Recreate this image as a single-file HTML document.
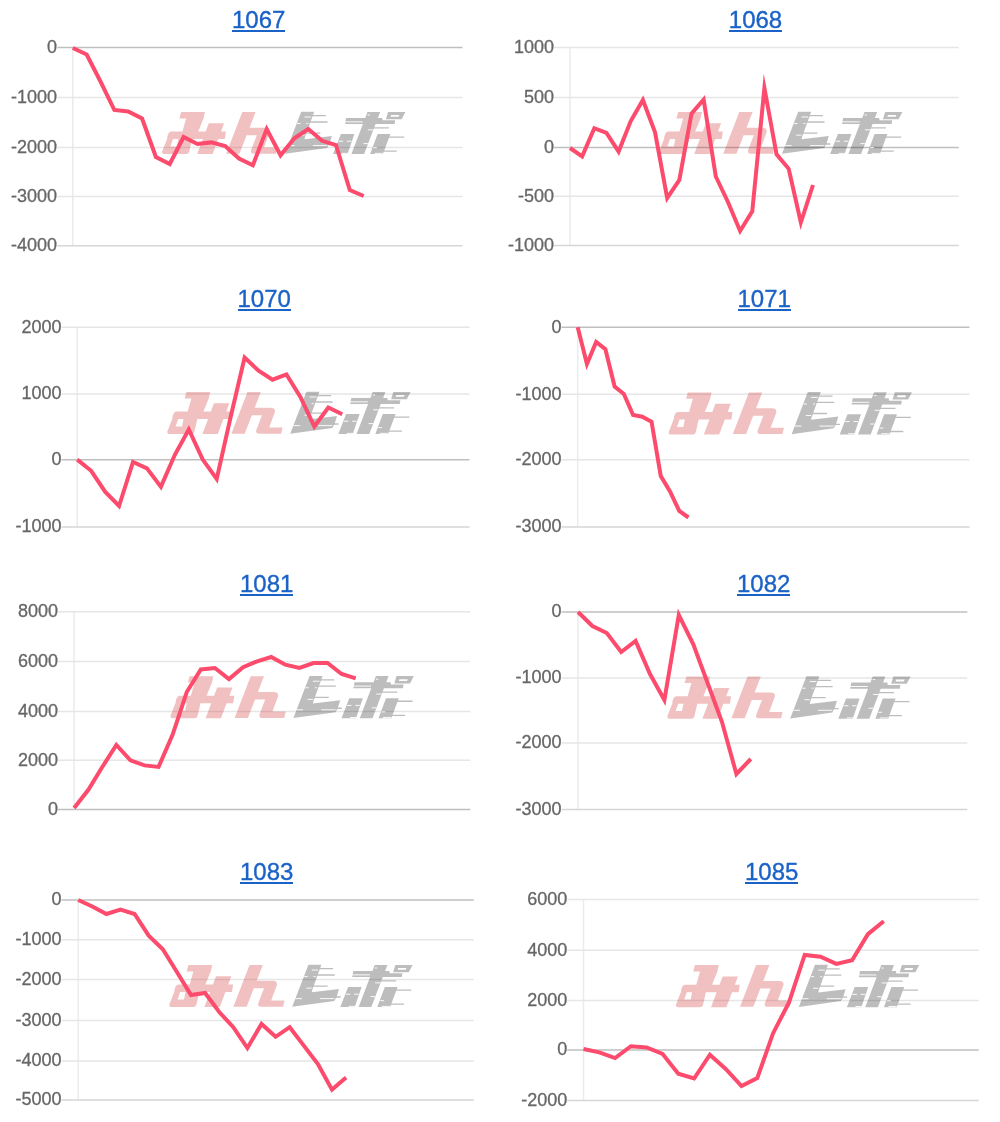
<!DOCTYPE html>
<html><head><meta charset="utf-8"><title>charts</title>
<style>
html,body{margin:0;padding:0;background:#fff;}
body{width:1000px;height:1122px;overflow:hidden;position:relative;font-family:"Liberation Sans",sans-serif;}
svg{position:absolute;left:0;top:0;display:block;will-change:transform;}
.lb,.tt{position:absolute;white-space:nowrap;font-family:"Liberation Sans",sans-serif;}
.lb{font-size:18px;line-height:20px;color:#666666;-webkit-text-stroke:0.3px #666666;text-align:right;}
.tt{font-size:24px;line-height:28px;color:#1a62c7;-webkit-text-stroke:0.35px #1a62c7;}
.ul{position:absolute;width:53.4px;height:2px;background:#1a62c7;}
</style></head><body>
<svg width="1000" height="1122" viewBox="0 0 1000 1122">
<defs><g id="logo">
<path fill="rgba(205,25,30,0.27)" d="M18.6,0 L42.3,0 L41,6.3 L16.8,6.3 Z
M23.7,6 L41.1,6 L35.5,19.6 L19.8,19.6 Z
M8.8,19.3 L63.3,19.3 L62.2,26.8 L4.5,26.8 Q5,19.3 8.8,19.3 Z
M4.5,26.6 L29.5,26.6 L26.6,39.4 Q26,41.6 23.6,41.6 L1.8,41.6 Q-1,41.6 -0.4,38.9 Z
M10.4,26.8 L7.8,34.1 L14.2,34.1 L15.7,26.8 Z
M46.2,11.2 L61.5,11.2 L50,41.6 L34.6,41.6 Z
M79.7,0 L93,0 L76.9,41.2 L63.6,41.2 Z
M85.5,15.6 L102.5,15.6 Q108,15.6 107,20 L101.4,35 L114.7,35 L113.3,41.2 L91.2,41.2 Q87.5,41.2 88.5,37.5 L94.2,23 L84,23 Z"/>
<path fill="rgba(0,0,0,0.26)" d="M138.6,-0.3 L151.6,-0.3 L142.5,24.4 L141.9,27 L169.2,23.8 L167.2,30.3 L164.6,35.5 L122.4,41.3 Z
M149,3 h14.3 v1.3 h-14.3 Z M147,9.2 h17.9 v1.3 h-17.9 Z M143,20.2 h14.8 v1.3 h-14.8 Z M164,31 h6.8 v1.3 h-6.8 Z M157,34.2 h7.6 v1.3 h-7.6 Z
M183.5,5.9 L219.5,5.9 L220,8.2 L232.6,8.2 L232,11.9 L182.4,11.9 Z
M204.9,-0.1 L217.6,-0.1 L201.5,41.6 L188.8,41.6 Z
M210,15.1 h16.3 v1.3 h-16.3 Z
M178.3,21.7 L191.8,21.7 L185,41.6 L170.5,41.6 Z
M215,21.7 L227.8,21.7 L220.3,41.6 L207.5,41.6 Z
M222,24.1 h19.6 v1.3 h-19.6 Z M212,38 h22.1 v1.3 h-22.1 Z
M225.5,-0.1 L242.8,-0.1 L239,7.1 L223.3,7.1 Z M228.5,2.9 L227.8,4.8 L236,4.8 L236.8,2.9 Z"/>
<g fill="#ffffff">
<rect x="141.9" y="4.5" width="6.5" height="0.9"/>
<rect x="134.5" y="11" width="3.3" height="0.9"/>
<rect x="143.8" y="11" width="2" height="0.9"/>
<rect x="136.6" y="22.4" width="5.3" height="0.9"/>
<rect x="125.6" y="32.8" width="6.5" height="0.9"/>
<rect x="150.3" y="32.8" width="14.3" height="0.9"/>
<rect x="182.4" y="9.3" width="17.6" height="0.9"/>
<rect x="205" y="2.5" width="2.3" height="0.9"/>
<rect x="205.3" y="17.2" width="5.3" height="0.9"/>
<rect x="176" y="28.4" width="4.5" height="0.9"/>
<rect x="184.3" y="28.4" width="4.5" height="0.9"/>
<rect x="200.8" y="30.8" width="4.5" height="0.9"/>
<rect x="210.5" y="34.8" width="3.8" height="0.9"/>
<rect x="179" y="40.4" width="7.5" height="0.9"/>
<rect x="212" y="40.4" width="8.2" height="0.9"/>
</g>
</g></defs>
<line x1="72.8" y1="47.6" x2="72.8" y2="245.7" stroke="#ebebeb" stroke-width="1.5"/>
<line x1="57.5" y1="47.6" x2="462.5" y2="47.6" stroke="#bfbfbf" stroke-width="1.5"/>
<line x1="57.5" y1="97.5" x2="462.5" y2="97.5" stroke="#e6e6e6" stroke-width="1.5"/>
<line x1="57.5" y1="147.6" x2="462.5" y2="147.6" stroke="#e6e6e6" stroke-width="1.5"/>
<line x1="57.5" y1="196.5" x2="462.5" y2="196.5" stroke="#e6e6e6" stroke-width="1.5"/>
<line x1="57.5" y1="245.7" x2="462.5" y2="245.7" stroke="#d6d6d6" stroke-width="1.5"/>
<use href="#logo" transform="translate(162.6,112) scale(1,1.012)"/>
<polyline points="72.8,48 86.65,54.5 100.5,81.5 114.35,110 128.2,111.5 142.05,118.5 155.9,157 169.75,164 183.6,137 197.45,144 211.3,142.4 225.15,146 239,158.6 252.85,165.3 266.7,129 280.55,155.3 294.4,138.3 308.25,129 322.1,140.8 335.95,145 349.8,190 363.65,196" fill="none" stroke="#fc4b6c" stroke-width="4" stroke-linejoin="miter" stroke-miterlimit="10"/>
<line x1="570" y1="47.5" x2="570" y2="245.5" stroke="#ebebeb" stroke-width="1.5"/>
<line x1="554" y1="47.5" x2="958.75" y2="47.5" stroke="#e6e6e6" stroke-width="1.5"/>
<line x1="554" y1="97.5" x2="958.75" y2="97.5" stroke="#e6e6e6" stroke-width="1.5"/>
<line x1="554" y1="147.5" x2="958.75" y2="147.5" stroke="#bfbfbf" stroke-width="1.5"/>
<line x1="554" y1="196.3" x2="958.75" y2="196.3" stroke="#e6e6e6" stroke-width="1.5"/>
<line x1="554" y1="245.5" x2="958.75" y2="245.5" stroke="#d6d6d6" stroke-width="1.5"/>
<use href="#logo" transform="translate(659.6,112) scale(1,1.012)"/>
<polyline points="570,148 582.15,156.4 594.3,128.2 606.45,133 618.6,151.6 630.75,121 642.9,100 655.05,132.4 667.2,198 679.35,179.9 691.5,113.6 703.65,99.5 715.8,176.5 727.95,202 740.1,231 752.25,211.4 764.4,88 776.55,154.4 788.7,168.8 800.85,222.5 813,185" fill="none" stroke="#fc4b6c" stroke-width="4" stroke-linejoin="miter" stroke-miterlimit="10"/>
<line x1="77.2" y1="327.2" x2="77.2" y2="527" stroke="#ebebeb" stroke-width="1.5"/>
<line x1="61.5" y1="327.2" x2="469.5" y2="327.2" stroke="#e6e6e6" stroke-width="1.5"/>
<line x1="61.5" y1="394" x2="469.5" y2="394" stroke="#e6e6e6" stroke-width="1.5"/>
<line x1="61.5" y1="459.7" x2="469.5" y2="459.7" stroke="#bfbfbf" stroke-width="1.5"/>
<line x1="61.5" y1="527" x2="469.5" y2="527" stroke="#d6d6d6" stroke-width="1.5"/>
<use href="#logo" transform="translate(167.8,392) scale(1,1.012)"/>
<polyline points="77.2,459.6 91.15,470.8 105.1,491.7 119.05,506 133,462 146.95,468.4 160.9,486.9 174.85,454.8 188.8,429.5 202.75,459.6 216.7,479 230.65,417 244.6,357.5 258.55,370.7 272.5,379.7 286.45,374.5 300.4,397 314.35,426.5 328.3,407.5 342.25,414.2" fill="none" stroke="#fc4b6c" stroke-width="4" stroke-linejoin="miter" stroke-miterlimit="10"/>
<line x1="577.7" y1="327.2" x2="577.7" y2="527" stroke="#ebebeb" stroke-width="1.5"/>
<line x1="561.5" y1="327.2" x2="969.5" y2="327.2" stroke="#bfbfbf" stroke-width="1.5"/>
<line x1="561.5" y1="394.2" x2="969.5" y2="394.2" stroke="#e6e6e6" stroke-width="1.5"/>
<line x1="561.5" y1="459.7" x2="969.5" y2="459.7" stroke="#e6e6e6" stroke-width="1.5"/>
<line x1="561.5" y1="527" x2="969.5" y2="527" stroke="#d6d6d6" stroke-width="1.5"/>
<use href="#logo" transform="translate(669.2,392.4) scale(1,1.012)"/>
<polyline points="577.7,327.3 586.93,364 596.16,341.9 605.39,349.2 614.62,386.6 623.85,394 633.08,415 642.31,416.7 651.54,421.7 660.77,476 670,491.4 679.23,510.9 688.46,517.5" fill="none" stroke="#fc4b6c" stroke-width="4" stroke-linejoin="miter" stroke-miterlimit="10"/>
<line x1="74.1" y1="611.8" x2="74.1" y2="809.6" stroke="#ebebeb" stroke-width="1.5"/>
<line x1="58" y1="611.8" x2="470.3" y2="611.8" stroke="#e6e6e6" stroke-width="1.5"/>
<line x1="58" y1="661.6" x2="470.3" y2="661.6" stroke="#e6e6e6" stroke-width="1.5"/>
<line x1="58" y1="711.4" x2="470.3" y2="711.4" stroke="#e6e6e6" stroke-width="1.5"/>
<line x1="58" y1="760.2" x2="470.3" y2="760.2" stroke="#e6e6e6" stroke-width="1.5"/>
<line x1="58" y1="809.6" x2="470.3" y2="809.6" stroke="#bfbfbf" stroke-width="1.5"/>
<use href="#logo" transform="translate(171,676.2) scale(1,1.012)"/>
<polyline points="74.1,808 88.18,790 102.26,767 116.34,745 130.42,760.3 144.5,765.4 158.58,766.9 172.66,734.6 186.74,692 200.82,669.5 214.9,668 228.98,679.1 243.06,667.2 257.14,661.3 271.22,657 285.3,664.7 299.38,668 313.46,663 327.54,663 341.62,674 355.7,678.3" fill="none" stroke="#fc4b6c" stroke-width="4" stroke-linejoin="miter" stroke-miterlimit="10"/>
<line x1="578" y1="612.1" x2="578" y2="809.6" stroke="#ebebeb" stroke-width="1.5"/>
<line x1="561.5" y1="612.1" x2="967.3" y2="612.1" stroke="#bfbfbf" stroke-width="1.5"/>
<line x1="561.5" y1="678" x2="967.3" y2="678" stroke="#e6e6e6" stroke-width="1.5"/>
<line x1="561.5" y1="743.1" x2="967.3" y2="743.1" stroke="#e6e6e6" stroke-width="1.5"/>
<line x1="561.5" y1="809.6" x2="967.3" y2="809.6" stroke="#d6d6d6" stroke-width="1.5"/>
<use href="#logo" transform="translate(667.8,676.6) scale(1,1.012)"/>
<polyline points="578,612 592.4,626 606.8,633 621.2,652 635.6,641 650,674 664.4,700 678.8,615 693.2,644 707.6,683 722,722 736.4,774 750.8,759" fill="none" stroke="#fc4b6c" stroke-width="4" stroke-linejoin="miter" stroke-miterlimit="10"/>
<line x1="78.2" y1="900" x2="78.2" y2="1100" stroke="#ebebeb" stroke-width="1.5"/>
<line x1="61.5" y1="900" x2="473.75" y2="900" stroke="#bfbfbf" stroke-width="1.5"/>
<line x1="61.5" y1="939.8" x2="473.75" y2="939.8" stroke="#e6e6e6" stroke-width="1.5"/>
<line x1="61.5" y1="979.5" x2="473.75" y2="979.5" stroke="#e6e6e6" stroke-width="1.5"/>
<line x1="61.5" y1="1020.6" x2="473.75" y2="1020.6" stroke="#e6e6e6" stroke-width="1.5"/>
<line x1="61.5" y1="1061" x2="473.75" y2="1061" stroke="#e6e6e6" stroke-width="1.5"/>
<line x1="61.5" y1="1100" x2="473.75" y2="1100" stroke="#d6d6d6" stroke-width="1.5"/>
<use href="#logo" transform="translate(169.8,965) scale(1,1.012)"/>
<polyline points="78.2,900 92.3,906.5 106.4,914 120.5,909.5 134.6,914 148.7,935.6 162.8,949.2 176.9,972 191,995 205.1,993 219.2,1012 233.3,1027.2 247.4,1048 261.5,1024 275.6,1036.8 289.7,1027.2 303.8,1045.6 317.9,1064 332,1089.6 346.1,1077.6" fill="none" stroke="#fc4b6c" stroke-width="4" stroke-linejoin="miter" stroke-miterlimit="10"/>
<line x1="583.5" y1="899.5" x2="583.5" y2="1100.5" stroke="#ebebeb" stroke-width="1.5"/>
<line x1="567.25" y1="899.5" x2="978.75" y2="899.5" stroke="#e6e6e6" stroke-width="1.5"/>
<line x1="567.25" y1="950.2" x2="978.75" y2="950.2" stroke="#e6e6e6" stroke-width="1.5"/>
<line x1="567.25" y1="1000.6" x2="978.75" y2="1000.6" stroke="#e6e6e6" stroke-width="1.5"/>
<line x1="567.25" y1="1050" x2="978.75" y2="1050" stroke="#bfbfbf" stroke-width="1.5"/>
<line x1="567.25" y1="1100.5" x2="978.75" y2="1100.5" stroke="#d6d6d6" stroke-width="1.5"/>
<use href="#logo" transform="translate(676.4,965.1) scale(1,1.012)"/>
<polyline points="583.5,1049 599.3,1052.4 615.1,1058.1 630.9,1046.2 646.7,1047.5 662.5,1053.8 678.3,1073.7 694.1,1078.5 709.9,1054.7 725.7,1069 741.5,1086 757.3,1078 773.1,1033.2 788.9,1002.6 804.7,954.9 820.5,956.7 836.3,963.9 852.1,960.3 867.9,934.2 883.7,921.2" fill="none" stroke="#fc4b6c" stroke-width="4" stroke-linejoin="miter" stroke-miterlimit="10"/>
</svg>
<div class="lb" style="right:943px;top:36.96px">0</div>
<div class="lb" style="right:943px;top:86.86px">-1000</div>
<div class="lb" style="right:943px;top:136.96px">-2000</div>
<div class="lb" style="right:943px;top:185.86px">-3000</div>
<div class="lb" style="right:943px;top:235.06px">-4000</div>
<div class="tt" style="left:232px;top:5.88px">1067</div>
<div class="ul" style="left:232px;top:30px"></div>
<div class="lb" style="right:445.9px;top:36.86px">1000</div>
<div class="lb" style="right:445.9px;top:86.86px">500</div>
<div class="lb" style="right:445.9px;top:136.86px">0</div>
<div class="lb" style="right:445.9px;top:185.66px">-500</div>
<div class="lb" style="right:445.9px;top:234.86px">-1000</div>
<div class="tt" style="left:728.8px;top:5.88px">1068</div>
<div class="ul" style="left:728.8px;top:30px"></div>
<div class="lb" style="right:938.4px;top:316.56px">2000</div>
<div class="lb" style="right:938.4px;top:383.36px">1000</div>
<div class="lb" style="right:938.4px;top:449.06px">0</div>
<div class="lb" style="right:938.4px;top:516.36px">-1000</div>
<div class="tt" style="left:237.5px;top:285.08px">1070</div>
<div class="ul" style="left:237.5px;top:309.2px"></div>
<div class="lb" style="right:438.4px;top:316.56px">0</div>
<div class="lb" style="right:438.4px;top:383.56px">-1000</div>
<div class="lb" style="right:438.4px;top:449.06px">-2000</div>
<div class="lb" style="right:438.4px;top:516.36px">-3000</div>
<div class="tt" style="left:737.5px;top:285.08px">1071</div>
<div class="ul" style="left:737.5px;top:309.2px"></div>
<div class="lb" style="right:941.9px;top:601.16px">8000</div>
<div class="lb" style="right:941.9px;top:650.96px">6000</div>
<div class="lb" style="right:941.9px;top:700.76px">4000</div>
<div class="lb" style="right:941.9px;top:749.56px">2000</div>
<div class="lb" style="right:941.9px;top:798.96px">0</div>
<div class="tt" style="left:240px;top:570.08px">1081</div>
<div class="ul" style="left:240px;top:594.2px"></div>
<div class="lb" style="right:438.4px;top:601.46px">0</div>
<div class="lb" style="right:438.4px;top:667.36px">-1000</div>
<div class="lb" style="right:438.4px;top:732.46px">-2000</div>
<div class="lb" style="right:438.4px;top:798.96px">-3000</div>
<div class="tt" style="left:737px;top:570.08px">1082</div>
<div class="ul" style="left:737px;top:594.2px"></div>
<div class="lb" style="right:938.4px;top:889.36px">0</div>
<div class="lb" style="right:938.4px;top:929.16px">-1000</div>
<div class="lb" style="right:938.4px;top:968.86px">-2000</div>
<div class="lb" style="right:938.4px;top:1009.96px">-3000</div>
<div class="lb" style="right:938.4px;top:1050.36px">-4000</div>
<div class="lb" style="right:938.4px;top:1089.36px">-5000</div>
<div class="tt" style="left:240px;top:857.58px">1083</div>
<div class="ul" style="left:240px;top:881.7px"></div>
<div class="lb" style="right:432.65px;top:888.86px">6000</div>
<div class="lb" style="right:432.65px;top:939.56px">4000</div>
<div class="lb" style="right:432.65px;top:989.96px">2000</div>
<div class="lb" style="right:432.65px;top:1039.36px">0</div>
<div class="lb" style="right:432.65px;top:1089.86px">-2000</div>
<div class="tt" style="left:745px;top:857.58px">1085</div>
<div class="ul" style="left:745px;top:881.7px"></div>
</body></html>
